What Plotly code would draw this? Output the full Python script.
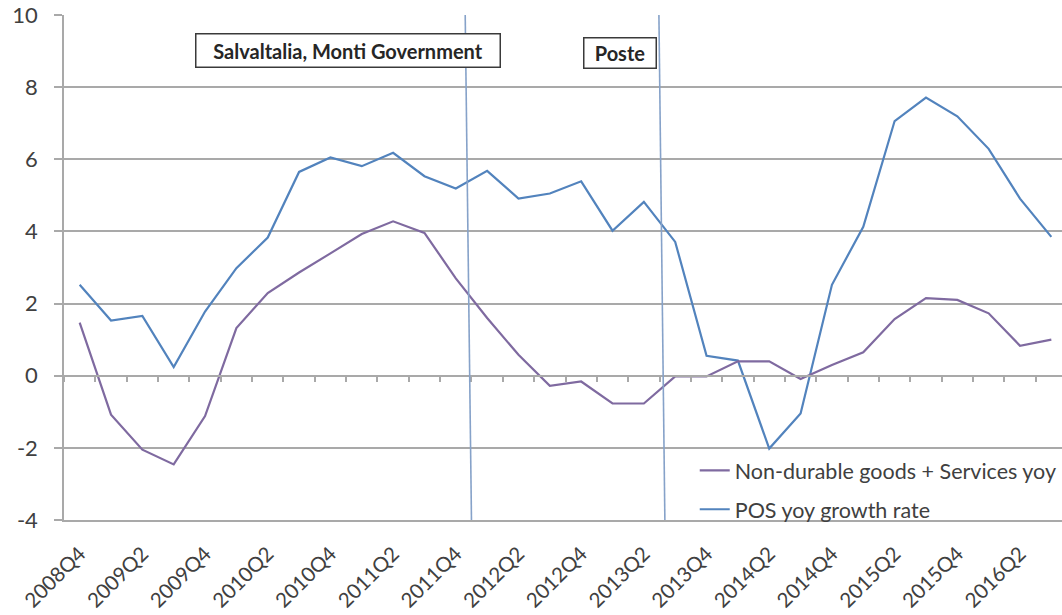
import plotly.graph_objects as go

# ---------------- data ----------------
quarters = ["2008Q4"] + [f"{y}Q{q}" for y in range(2009, 2016) for q in range(1, 5)] + ["2016Q1", "2016Q2", "2016Q3"]

nondurable_yoy = [1.47, -1.08, -2.05, -2.46, -1.12, 1.32, 2.29, 2.86, 3.39, 3.93, 4.28, 3.96,
                  2.70, 1.60, 0.58, -0.28, -0.16, -0.77, -0.77, -0.02, -0.02, 0.40, 0.40, -0.09,
                  0.30, 0.65, 1.57, 2.15, 2.10, 1.73, 0.83, 1.00]
pos_yoy = [2.52, 1.53, 1.66, 0.24, 1.78, 2.98, 3.83, 5.65, 6.05, 5.81, 6.18, 5.53,
           5.19, 5.68, 4.91, 5.05, 5.39, 4.02, 4.82, 3.71, 0.55, 0.42, -2.02, -1.05,
           2.52, 4.13, 7.06, 7.71, 7.19, 6.29, 4.91, 3.85]

series_names = ["Non-durable goods + Services yoy", "POS yoy growth rate"]
tick_labels = quarters[::2]
y_ticks = [-4, -2, 0, 2, 4, 6, 8, 10]
y_tick_text = ["-4", "-2", "0", "2", "4", "6", "8", "10"]

event_labels = ["Salvaltalia, Monti Government", "Poste"]
# event marker lines (category-index positions, top and bottom of plot)
event_line_top = [12.30, 18.48]
event_line_bottom = [12.50, 18.67]

# ---------------- styles ----------------
FONT = "Lato"
TXT = "#404040"
GRID = "#a9a9a9"
C_PURPLE = "#7f6aa0"
C_BLUE = "#5283bd"
C_EVENT = "#86a2c9"

fig = go.Figure()
fig.add_trace(go.Scatter(x=quarters, y=nondurable_yoy, name=series_names[0], mode="lines",
                         line=dict(color=C_PURPLE, width=2.2), xaxis="x2", legendgroup="a"))
fig.add_trace(go.Scatter(x=quarters, y=pos_yoy, name=series_names[1], mode="lines",
                         line=dict(color=C_BLUE, width=2.2), legendgroup="b"))

for xt, xb in zip(event_line_top, event_line_bottom):
    fig.add_shape(type="line", xref="x", yref="y", x0=xt, x1=xb, y0=10, y1=-4,
                  line=dict(color=C_EVENT, width=1.6), layer="above")

box_specs = [dict(x=8.57, y=9.02, width=303, height=32),
             dict(x=17.25, y=8.95, width=71, height=29)]
for lab, spec in zip(event_labels, box_specs):
    fig.add_annotation(text=lab, xref="x", yref="y", x=spec["x"], y=spec["y"], showarrow=False,
                       width=spec["width"], height=spec["height"], align="center",
                       font=dict(family=FONT, size=20, color="#262626", weight="bold"),
                       bordercolor="#3a3a3a", borderwidth=1.5, borderpad=0, bgcolor="white")

fig.update_layout(
    width=1062, height=615,
    margin=dict(l=64, r=0, t=15, b=95, autoexpand=False),
    paper_bgcolor="white", plot_bgcolor="white",
    font=dict(family=FONT, color=TXT),
    showlegend=True,
    legend=dict(x=0.632, y=0.139, xanchor="left", yanchor="top", bgcolor="rgba(0,0,0,0)",
                font=dict(family=FONT, size=21.5, color=TXT), traceorder="grouped",
                tracegroupgap=8, itemwidth=30),
    xaxis=dict(type="category", categoryorder="array", categoryarray=quarters, automargin=False,
               range=[-0.5, 31.34], tickmode="array", tickvals=tick_labels, ticktext=tick_labels,
               tickangle=-45, ticks="", showgrid=False, showline=True, linecolor=GRID, linewidth=1.5,
               ticklabelstandoff=12,
               tickfont=dict(family=FONT, size=20.5, color=TXT), zeroline=False),
    xaxis2=dict(type="category", categoryorder="array", categoryarray=quarters, matches="x",
                overlaying="x", anchor="free", position=4 / 14, side="bottom", automargin=False,
                showticklabels=False, showgrid=False, showline=True, linecolor=GRID, linewidth=1.5,
                ticks="outside", tickson="boundaries", ticklen=6, tickcolor=GRID, tickwidth=1.5,
                dtick=1, zeroline=False),
    yaxis=dict(range=[-4, 10], tickmode="array", tickvals=y_ticks, ticktext=y_tick_text,
               automargin=False, showgrid=True, gridcolor=GRID, gridwidth=1.5,
               showline=True, linecolor=GRID, linewidth=1.5, ticks="outside", ticklen=8,
               tickcolor=GRID, tickwidth=1.5, zeroline=False, ticklabelstandoff=12,
               tickfont=dict(family=FONT, size=22, color=TXT)),
)

# remove the page's default body margin so the figure fills the window exactly
fig.write_html("out.html", config={"displayModeBar": False},
               post_script="document.body.style.margin='0';")
